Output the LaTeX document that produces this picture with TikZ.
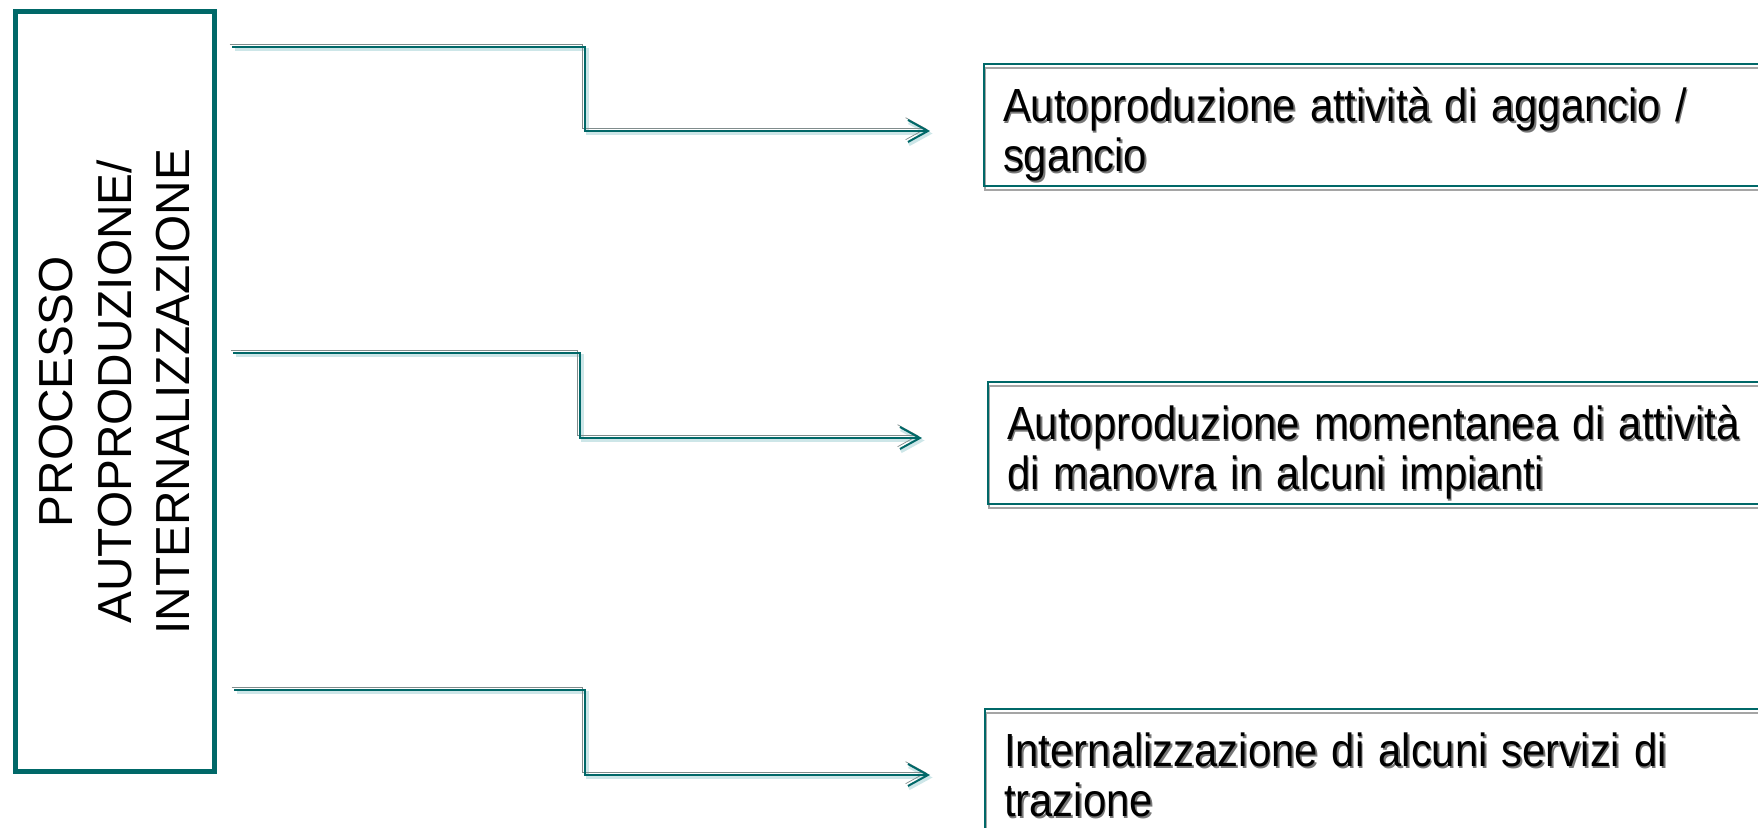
\documentclass[tikz,border=0pt]{standalone}
\usepackage{fontspec}
\setmainfont{Liberation Sans}
\usepackage{graphicx}
\usepackage{tikz}
\usetikzlibrary{arrows.meta}

\definecolor{procteal}{RGB}{0,104,104}
\definecolor{linkgray}{RGB}{128,140,140}
\definecolor{linkshade}{RGB}{205,230,232}
\definecolor{boxgray}{RGB}{165,165,165}
\definecolor{txtshade}{RGB}{120,120,120}
\newcommand{\narrowtxt}[1]{\scalebox{0.9}[1]{\rlap{\hspace{0.035cm}\raisebox{-0.035cm}{\textcolor{txtshade}{#1}}}#1}}

\begin{document}
\begin{tikzpicture}[
  procbox/.style={draw=procteal, line width=0.1cm, rotate=90, minimum width=15.2cm,
    minimum height=3.98cm, align=center, inner sep=0pt,
    font=\fontsize{0.955cm}{1.17cm}\selectfont},
  itembox/.style={draw=procteal, line width=0.04cm, anchor=north west, text width=16.2cm,
    align=left, inner xsep=0.38cm, inner ysep=0pt, font=\fontsize{0.93cm}{1cm}\selectfont,
    preaction={draw=boxgray, line width=0.04cm, transform canvas={shift={(0.02cm,-0.08cm)}}}},
  link/.style={draw=procteal, line width=0.04cm, -{Straight Barb[length=0.4cm,width=0.44cm]},
    preaction={draw=linkshade, line width=0.07cm, transform canvas={shift={(0.05cm,-0.05cm)}}},
    preaction={draw=linkgray, transform canvas={shift={(-0.046cm,0.046cm)}}}}
]
\path[use as bounding box, clip] (0,0) rectangle (35.16,16.54);

\node[procbox] (proc) at (2.30,8.705) {PROCESSO\\AUTOPRODUZIONE/\\INTERNALIZZAZIONE};

\node[itembox] (aggancio) at (19.66,15.28)
  {\rule{0pt}{1.16cm}\narrowtxt{Autoproduzione attività di aggancio /}\\
   \narrowtxt{sgancio}\rule[-0.28cm]{0pt}{0pt}};
\node[itembox] (manovra) at (19.74,8.92)
  {\rule{0pt}{1.16cm}\narrowtxt{Autoproduzione momentanea di attività}\\
   \narrowtxt{di manovra in alcuni impianti}\rule[-0.28cm]{0pt}{0pt}};
\node[itembox] (trazione) at (19.68,2.38)
  {\rule{0pt}{1.16cm}\narrowtxt{Internalizzazione di alcuni servizi di}\\
   \narrowtxt{trazione}\rule[-0.28cm]{0pt}{0pt}};

% connectors
\coordinate (s1) at (4.64,15.60);
\coordinate (k1) at (11.70,13.92);
\coordinate (e1) at (18.60,13.92);
\coordinate (s2) at (4.66,9.48);
\coordinate (k2) at (11.60,7.78);
\coordinate (e2) at (18.44,7.78);
\coordinate (s3) at (4.68,2.74);
\coordinate (k3) at (11.70,1.04);
\coordinate (e3) at (18.60,1.04);
\draw[link] (s1) -| (k1) -- (e1);
\draw[link] (s2) -| (k2) -- (e2);
\draw[link] (s3) -| (k3) -- (e3);
\end{tikzpicture}
\end{document}
